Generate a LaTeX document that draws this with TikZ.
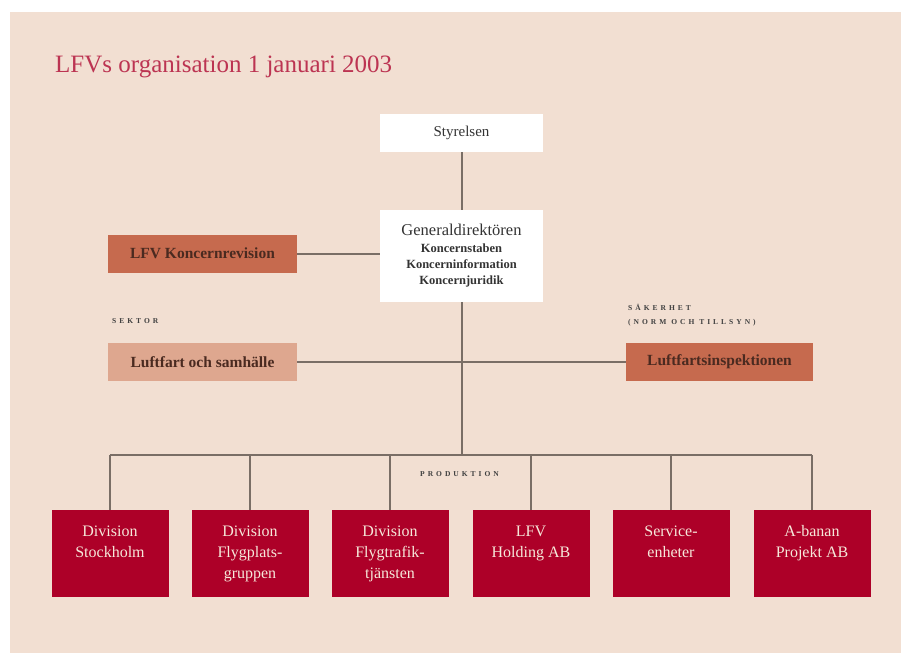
\documentclass[tikz,border=0pt]{standalone}
\usepackage{fontspec}
\setmainfont{Liberation Serif}
\newfontfamily\spaced[LetterSpace=40]{Liberation Serif}
\definecolor{bg}{HTML}{F2DFD2}
\definecolor{titlered}{HTML}{BC3452}
\definecolor{rust}{HTML}{C66A4E}
\definecolor{salmon}{HTML}{DEA78F}
\definecolor{crimson}{HTML}{AD0028}
\definecolor{linec}{HTML}{7A6E66}
\definecolor{cream}{HTML}{F6E8DA}
\definecolor{darktxt}{HTML}{4A2A20}
\begin{document}
\begin{tikzpicture}[x=1pt,y=-1pt,
  conn/.style={draw=linec,line width=2pt},
  whitebox/.style={fill=white,minimum width=163pt,inner sep=0pt,align=center,text=black!80},
  sidebox/.style={minimum width=189pt,minimum height=38pt,inner sep=0pt,font=\fontsize{15.5}{18}\selectfont\bfseries,text=darktxt},
  divbox/.style={fill=crimson,minimum width=117pt,minimum height=87pt,inner sep=0pt,align=center,text=cream,font=\fontsize{16}{21}\selectfont},
  smalllabel/.style={font=\spaced\fontsize{7.5}{14}\selectfont\bfseries,text=black!75,inner sep=0pt,align=left}
]
\useasboundingbox (0,0) rectangle (901,655);
\fill[white] (0,0) rectangle (901,655);
\fill[bg] (10,12) rectangle (901,653);

\node[anchor=base west,text=titlered,font=\fontsize{25}{28}\selectfont,inner sep=0pt] (title) at (55,73) {LFVs organisation 1 januari 2003};

\node[whitebox,minimum height=38pt,font=\fontsize{15}{17}\selectfont] (sty) at (461.5,133) {Styrelsen};
\node[whitebox,minimum height=92pt,font=\fontsize{12.5}{16}\selectfont\bfseries] (gd) at (461.5,256)
  {{\mdseries\fontsize{16.5}{16}\selectfont Generaldirektören}\\[1pt]
   Koncernstaben\\
   Koncerninformation\\
   Koncernjuridik};

\node[sidebox,fill=rust] (rev) at (202.5,253.5) {LFV Koncernrevision};
\node[sidebox,fill=salmon] (luft) at (202.5,362) {Luftfart och samhälle};
\node[sidebox,fill=rust,minimum width=187pt] (insp) at (719.5,362) {Luftfartsinspektionen};

\node[smalllabel,anchor=base west] (sektor) at (112,323) {SEKTOR};
\node[smalllabel,anchor=north west] (saker) at (628,304) {SÄKERHET\\(NORM OCH TILLSYN)};
\node[smalllabel,anchor=base west] (prod) at (420,476) {PRODUKTION};

\node[divbox] (d1) at (110,553.5) {Division\\Stockholm\\\vphantom{g}};
\node[divbox] (d2) at (250,553.5) {Division\\Flygplats-\\gruppen};
\node[divbox] (d3) at (390,553.5) {Division\\Flygtrafik-\\tjänsten};
\node[divbox] (d4) at (531,553.5) {LFV\\Holding AB\\\vphantom{g}};
\node[divbox] (d5) at (671,553.5) {Service-\\enheter\\\vphantom{g}};
\node[divbox] (d6) at (812,553.5) {A-banan\\Projekt AB\\\vphantom{g}};

\coordinate (bus) at (461.5,455);

\draw[conn] (sty) -- (gd);
\draw[conn] (rev) -- (rev -| gd.west);
\draw[conn] (luft) -- (insp);
\draw[conn] (gd.south) -- (bus);
\draw[conn] (d1.north |- bus) -- (d6.north |- bus);
\foreach \d in {d1,d2,d3,d4,d5,d6}
  \draw[conn] (\d.north |- bus) -- (\d.north);
\end{tikzpicture}
\end{document}
